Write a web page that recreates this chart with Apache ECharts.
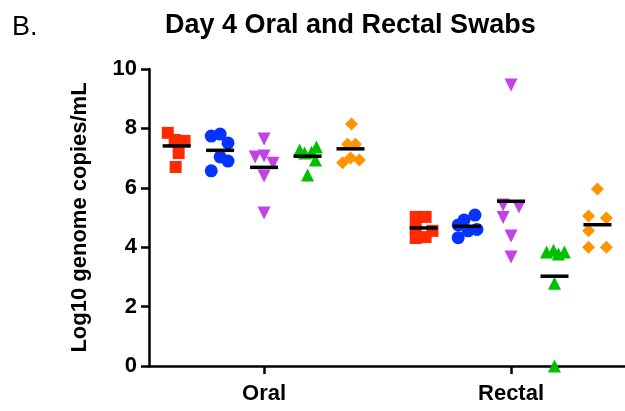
<!DOCTYPE html>
<html>
<head>
<meta charset="utf-8">
<script src="https://cdn.jsdelivr.net/npm/echarts@6/dist/echarts.min.js"></script>
<style>
  html, body { margin: 0; padding: 0; background: #fff; }
  #chart { width: 625px; height: 411px; }
</style>
</head>
<body>
<div id="chart"></div>
<script>
// categories on the x axis (1 = Oral, 2 = Rectal)
var categories = ['Oral', 'Rectal'];
var yTicks = [0, 2, 4, 6, 8, 10];

// offset of each group inside a category, and point jitter
var groupOffset = [-0.354, -0.178, 0, 0.176, 0.35];

// Oral swabs
var oralRed = [7.85, 7.61, 7.58, 7.55, 7.17, 6.70];
var oralRedJit = [-0.036, -0.008, 0.032, 0.004, 0.008, -0.004];
var oralBlue = [7.74, 7.81, 7.51, 7.04, 6.90, 6.57];
var oralBlueJit = [-0.036, 0, 0.032, 0, 0.032, -0.036];
var oralPurple = [7.64, 7.04, 7.07, 6.83, 6.40, 5.15];
var oralPurpleJit = [0, -0.036, 0, 0.036, 0, 0];
var oralGreen = [7.27, 7.17, 7.20, 7.37, 6.94, 6.43];
var oralGreenJit = [-0.032, -0.012, 0.016, 0.036, 0.032, 0];
var oralOrange = [8.15, 7.47, 7.47, 6.84, 7.00, 6.94];
var oralOrangeJit = [0.004, -0.012, 0.02, -0.032, 0, 0.036];

// Rectal swabs
var rectalRed = [5.02, 5.02, 4.55, 4.31, 4.34, 4.65];
var rectalRedJit = [-0.032, 0.008, 0.036, -0.032, 0.008, -0.032];
var rectalBlue = [5.08, 4.92, 4.75, 4.55, 4.60, 4.32];
var rectalBlueJit = [0.032, -0.012, -0.036, 0.004, 0.04, -0.036];
var rectalPurple = [9.46, 5.42, 5.35, 5.00, 4.38, 3.67];
var rectalPurpleJit = [0, -0.032, 0.032, -0.032, 0, 0];
var rectalGreen = [3.84, 3.90, 3.77, 3.84, 2.79, 0];
var rectalGreenJit = [-0.032, -0.004, 0.016, 0.04, 0, 0];
var rectalOrange = [5.96, 5.05, 4.98, 4.55, 4.00, 4.00];
var rectalOrangeJit = [0, -0.036, 0.036, -0.036, -0.036, 0.036];

var groups = [
    {color: '#ff2a00', symbol: 'rect', rotate: 0, size: 12, oral: [oralRed, oralRedJit], rectal: [rectalRed, rectalRedJit]},
    {color: '#0433ff', symbol: 'circle', rotate: 0, size: 13, oral: [oralBlue, oralBlueJit], rectal: [rectalBlue, rectalBlueJit]},
    {color: '#c143e8', symbol: 'triangle', rotate: 180, size: 13, oral: [oralPurple, oralPurpleJit], rectal: [rectalPurple, rectalPurpleJit]},
    {color: '#00c000', symbol: 'triangle', rotate: 0, size: 13, oral: [oralGreen, oralGreenJit], rectal: [rectalGreen, rectalGreenJit]},
    {color: '#ff9300', symbol: 'diamond', rotate: 0, size: 13, oral: [oralOrange, oralOrangeJit], rectal: [rectalOrange, rectalOrangeJit]}
];

function mean(arr) {
    var s = 0;
    for (var i = 0; i < arr.length; i++) s += arr[i];
    return s / arr.length;
}

var series = [];
var meanData = [];
groups.forEach(function (g, gi) {
    var data = [];
    [g.oral, g.rectal].forEach(function (set, ci) {
        var cx = ci + 1 + groupOffset[gi];
        set[0].forEach(function (v, i) {
            data.push([cx + set[1][i], v]);
        });
        meanData.push([cx, mean(set[0])]);
    });
    series.push({
        type: 'scatter',
        data: data,
        symbol: g.symbol,
        symbolRotate: g.rotate,
        symbolSize: g.size,
        itemStyle: {color: g.color, opacity: 1},
        clip: false,
        z: 2
    });
});
series.push({
    type: 'scatter',
    data: meanData,
    symbol: 'rect',
    symbolSize: [28, 3.5],
    itemStyle: {color: '#000', opacity: 1},
    clip: false,
    z: 3
});

var myChart = echarts.init(document.getElementById('chart'));
var option = {
    animation: false,
    title: [
        {
            text: 'B.',
            left: 7, top: 9,
            textStyle: {fontFamily: 'Liberation Sans', fontSize: 27, fontWeight: 'normal', color: '#000'}
        },
        {
            text: 'Day 4 Oral and Rectal Swabs',
            left: 160, top: 7,
            textStyle: {fontFamily: 'Liberation Sans', fontSize: 27, fontWeight: 'bold', color: '#000'}
        }
    ],
    grid: {left: 149, right: 0, top: 69, bottom: 45},
    xAxis: {
        type: 'value',
        min: 0.534,
        max: 2.4615,
        splitLine: {show: false},
        axisLine: {show: true, onZero: false, lineStyle: {color: '#000', width: 2.5}},
        axisTick: {show: true, customValues: [1, 2], length: 8, lineStyle: {color: '#000', width: 2.5}},
        axisLabel: {
            customValues: [1, 2],
            formatter: function (v) { return categories[Math.round(v) - 1]; },
            margin: 17,
            fontFamily: 'Liberation Sans', fontSize: 22, fontWeight: 'bold', color: '#000'
        }
    },
    yAxis: {
        type: 'value',
        min: yTicks[0],
        max: yTicks[yTicks.length - 1],
        interval: 2,
        name: 'Log10 genome copies/mL',
        nameLocation: 'middle',
        nameGap: 58,
        nameTextStyle: {fontFamily: 'Liberation Sans', fontSize: 22, fontWeight: 'bold', color: '#000'},
        splitLine: {show: false},
        axisLine: {show: true, lineStyle: {color: '#000', width: 2.5}},
        axisTick: {show: true, length: 8, lineStyle: {color: '#000', width: 2.5}},
        axisLabel: {
            margin: 12,
            fontFamily: 'Liberation Sans', fontSize: 22, fontWeight: 'bold', color: '#000'
        }
    },
    series: series
};
myChart.setOption(option);
</script>
</body>
</html>
